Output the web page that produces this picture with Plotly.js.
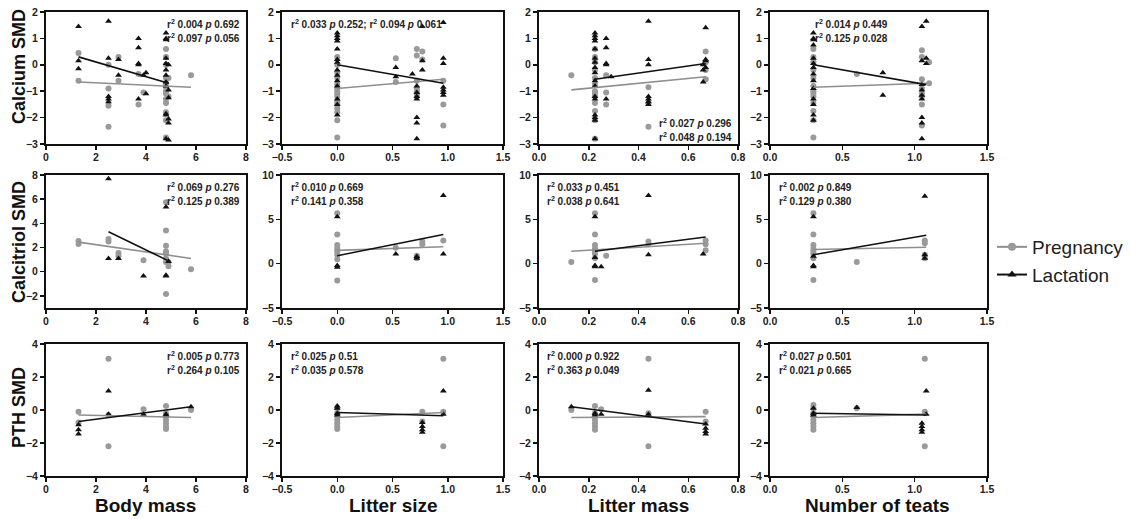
<!DOCTYPE html>
<html>
<head>
<meta charset="utf-8">
<script src="https://cdn.plot.ly/plotly-3.0.1.min.js"></script>
<style>html,body{margin:0;padding:0;background:#fff;}#chart{width:1131px;height:519px;}</style>
</head>
<body>
<div id="chart"></div>
<script>
// ---------- DATA (groups of [x, [y values]]) ----------
// Row 1: Calcium SMD
const calBodyPreg = [[1.3,[0.45,-0.6]],[2.5,[0.0,-0.9,-1.55,-2.35]],[2.9,[0.3,-0.6]],[3.7,[-0.35,-1.5]],[3.9,[-1.05]],[4.8,[0.6,0.3,0.0,-0.5,-0.7,-0.85,-1.0,-1.1,-1.3,-1.45,-1.8,-2.1,-2.75]],[4.9,[-0.5,-1.2]],[5.8,[-0.4]]];
const calBodyLact = [[1.3,[1.45,0.15,-0.15]],[2.5,[1.65,0.25,-1.2,-1.3,-1.4]],[2.9,[0.2,-0.4]],[3.7,[1.0,0.65,0.05,0.0,-1.3]],[3.9,[-0.4]],[4.0,[-0.3,-1.1]],[4.8,[1.2,1.0,0.95,0.25,0.05,-0.2,-0.4,-0.65,-0.8,-1.85,-1.9,-2.8]],[4.9,[0.0,-0.95,-1.25,-2.05,-2.2,-2.85]]];
const calBodyPregFit = [[1.3,-0.65],[5.8,-0.85]];
const calBodyLactFit = [[1.3,0.3],[4.9,-0.7]];

const calSizePreg = [[0,[0.3,0.0,-0.3,-0.5,-0.75,-0.9,-1.0,-1.1,-1.2,-1.4,-1.5,-1.65,-1.8,-2.1,-2.75]],[0.53,[0.25,-0.65]],[0.72,[0.6,0.35,-0.6,-0.9,-1.0,-1.1,-1.2]],[0.77,[0.5,0.2]],[0.96,[-0.6,-1.5,-2.3]]];
const calSizeLact = [[0,[1.2,1.1,1.0,0.9,0.6,0.2,0.1,-0.2,-0.4,-0.6,-0.8,-1.3,-1.5,-1.9]],[0.53,[-0.1,-0.45]],[0.68,[-0.35]],[0.72,[-0.8,-1.05,-1.2,-1.3,-2.0,-2.2,-2.8]],[0.77,[1.45,0.15,-0.2]],[0.96,[1.6,0.25,0.05,-0.85,-0.95,-1.05,-1.15]]];
const calSizePregFit = [[0,-0.9],[0.96,-0.55]];
const calSizeLactFit = [[0,0.0],[0.96,-0.7]];

const calMassPreg = [[0.13,[-0.4]],[0.225,[0.6,0.3,0.1,-0.2,-0.5,-0.75,-1.0,-1.1,-1.2,-1.45,-1.75,-2.1,-2.8]],[0.27,[-0.4,-1.05,-1.5]],[0.44,[-0.85,-1.45,-2.35]],[0.67,[0.5,0.1,-0.2,-0.55]]];
const calMassLact = [[0.225,[1.2,1.1,1.0,0.9,0.6,0.25,0.1,-0.1,-0.3,-0.6,-0.8,-1.2,-1.3,-1.9,-2.0,-2.1,-2.8]],[0.27,[1.0,0.65,0.05,0.0,-1.3]],[0.29,[-0.45]],[0.44,[1.65,0.2,0.0,-1.2,-1.3,-1.4,-1.5]],[0.66,[-0.65,0.0,-0.2]],[0.67,[1.4,0.15,-0.1,0.2]]];
const calMassPregFit = [[0.13,-0.95],[0.67,-0.45]];
const calMassLactFit = [[0.225,-0.55],[0.67,0.05]];

const calTeatPreg = [[0.3,[0.6,0.3,0.1,-0.2,-0.5,-0.8,-1.0,-1.1,-1.2,-1.45,-1.75,-2.1,-2.75]],[0.6,[-0.35]],[1.05,[0.55,0.3,-0.55,-0.9,-1.1,-1.2,-1.5,-2.3]],[1.1,[0.1,-0.7]]];
const calTeatLact = [[0.3,[1.2,1.0,0.95,0.75,0.25,0.05,-0.1,-0.35,-0.6,-0.9,-1.3,-1.5,-1.9,-2.1]],[0.78,[-0.3,-1.15]],[1.05,[1.45,0.15,-0.75,-0.95,-1.15,-1.3,-2.0,-2.2,-2.8]],[1.08,[1.65,0.25,0.05]]];
const calTeatPregFit = [[0.3,-0.85],[1.08,-0.7]];
const calTeatLactFit = [[0.3,0.0],[1.08,-0.75]];

// Row 2: Calcitriol SMD
const ctrBodyPreg = [[1.3,[2.55,2.3]],[2.5,[2.7,2.5]],[2.9,[1.55,1.3]],[3.9,[0.95]],[4.8,[5.75,3.4,2.15,1.7,1.5,1.1,0.8,-1.85]],[4.9,[0.8,0.45]],[5.8,[0.2]]];
const ctrBodyLact = [[2.5,[7.7,1.1]],[2.9,[1.1]],[3.9,[-0.35]],[4.8,[5.35,-0.3,-0.35]],[4.9,[0.85]]];
const ctrBodyPregFit = [[1.3,2.45],[5.8,1.1]];
const ctrBodyLactFit = [[2.5,3.3],[4.9,0.9]];

const ctrSizePreg = [[0,[5.7,3.3,2.1,1.7,1.4,1.0,0.5,-1.9]],[0.53,[1.8]],[0.72,[0.9,0.6]],[0.77,[2.5,2.2]],[0.96,[2.6]]];
const ctrSizeLact = [[0,[5.3,-0.2,-0.4]],[0.53,[1.1]],[0.72,[0.8,0.6]],[0.96,[7.7,1.1]]];
const ctrSizePregFit = [[0,1.5],[0.96,1.9]];
const ctrSizeLactFit = [[0,0.9],[0.96,3.3]];

const ctrMassPreg = [[0.13,[0.2]],[0.225,[5.7,3.3,2.1,1.7,1.4,1.1,0.6,-1.85]],[0.27,[0.9]],[0.44,[2.5,2.2]],[0.67,[2.6,2.2,1.5]]];
const ctrMassLact = [[0.225,[5.3,0.7,-0.2,-0.35]],[0.25,[-0.35]],[0.44,[7.7,1.0]],[0.66,[1.1]]];
const ctrMassPregFit = [[0.13,1.4],[0.67,2.3]];
const ctrMassLactFit = [[0.225,1.4],[0.67,3.0]];

const ctrTeatPreg = [[0.3,[5.7,3.3,2.1,1.7,1.4,1.1,0.6,-1.85]],[0.6,[0.2]],[1.07,[2.6,2.3,1.0,0.6]]];
const ctrTeatLact = [[0.3,[5.3,0.85,-0.2,-0.35]],[1.07,[7.6,1.0,0.6]]];
const ctrTeatPregFit = [[0.3,1.6],[1.08,1.85]];
const ctrTeatLactFit = [[0.3,1.0],[1.08,3.2]];

// Row 3: PTH SMD
const pthBodyPreg = [[1.3,[-0.1,-0.75]],[2.5,[3.1,-0.3,-2.2]],[3.9,[0.05]],[4.8,[0.25,-0.2,-0.4,-0.6,-0.8,-1.0,-1.15]],[5.8,[0.0]]];
const pthBodyLact = [[1.3,[-0.9,-1.2,-1.45]],[2.5,[1.15,-0.25]],[3.9,[-0.25]],[4.8,[-0.25,-0.35]],[5.8,[0.2]]];
const pthBodyPregFit = [[1.3,-0.3],[5.8,-0.45]];
const pthBodyLactFit = [[1.3,-0.7],[5.8,0.2]];

const pthSizePreg = [[0,[0.1,-0.2,-0.4,-0.6,-0.8,-1.0,-1.15]],[0.77,[-0.1,-0.7]],[0.96,[3.1,-0.1,-2.2]]];
const pthSizeLact = [[0,[0.25,0.1,-0.2,-0.3]],[0.77,[-0.75,-1.0,-1.2,-1.35]],[0.96,[1.15,-0.25]]];
const pthSizePregFit = [[0,-0.45],[0.96,-0.15]];
const pthSizeLactFit = [[0,-0.15],[0.96,-0.35]];

const pthMassPreg = [[0.13,[0.0]],[0.225,[0.25,-0.2,-0.4,-0.6,-0.8,-1.0,-1.2]],[0.25,[0.05]],[0.44,[3.1,-0.2,-2.2]],[0.67,[-0.1,-0.7]]];
const pthMassLact = [[0.13,[0.2]],[0.225,[-0.2,-0.3]],[0.25,[-0.25]],[0.44,[1.2,-0.25]],[0.67,[-0.85,-1.1,-1.3,-1.45]]];
const pthMassPregFit = [[0.13,-0.45],[0.67,-0.4]];
const pthMassLactFit = [[0.13,0.2],[0.67,-0.85]];

const pthTeatPreg = [[0.3,[0.3,0.1,-0.2,-0.4,-0.6,-0.8,-1.0,-1.2]],[0.6,[0.1]],[1.07,[3.1,-0.1,-2.2]]];
const pthTeatLact = [[0.3,[0.1,-0.2,-0.3]],[0.6,[0.15]],[1.05,[-0.8,-1.0,-1.2,-1.35]],[1.08,[1.15,-0.25]]];
const pthTeatPregFit = [[0.3,-0.45],[1.08,-0.25]];
const pthTeatLactFit = [[0.3,-0.2],[1.08,-0.3]];

// Statistics text
const statsText = [
  ["r<sup>2</sup> 0.004 <i>p</i> 0.692","r<sup>2</sup> 0.097 <i>p</i> 0.056"],
  ["r<sup>2</sup> 0.033 <i>p</i> 0.252; r<sup>2</sup> 0.094 <i>p</i> 0.061"],
  ["r<sup>2</sup> 0.027 <i>p</i> 0.296","r<sup>2</sup> 0.048 <i>p</i> 0.194"],
  ["r<sup>2</sup> 0.014 <i>p</i> 0.449","r<sup>2</sup> 0.125 <i>p</i> 0.028"],
  ["r<sup>2</sup> 0.069 <i>p</i> 0.276","r<sup>2</sup> 0.125 <i>p</i> 0.389"],
  ["r<sup>2</sup> 0.010 <i>p</i> 0.669","r<sup>2</sup> 0.141 <i>p</i> 0.358"],
  ["r<sup>2</sup> 0.033 <i>p</i> 0.451","r<sup>2</sup> 0.038 <i>p</i> 0.641"],
  ["r<sup>2</sup> 0.002 <i>p</i> 0.849","r<sup>2</sup> 0.129 <i>p</i> 0.380"],
  ["r<sup>2</sup> 0.005 <i>p</i> 0.773","r<sup>2</sup> 0.264 <i>p</i> 0.105"],
  ["r<sup>2</sup> 0.025 <i>p</i> 0.51","r<sup>2</sup> 0.035 <i>p</i> 0.578"],
  ["r<sup>2</sup> 0.000 <i>p</i> 0.922","r<sup>2</sup> 0.363 <i>p</i> 0.049"],
  ["r<sup>2</sup> 0.027 <i>p</i> 0.501","r<sup>2</sup> 0.021 <i>p</i> 0.665"]
];
const rowTitles = ["Calcium SMD","Calcitriol SMD","PTH SMD"];
const colTitles = ["Body mass","Litter size","Litter mass","Number of teats"];
const seriesNames = ["Pregnancy","Lactation"];

// ---------- LAYOUT ----------
const W = 1131, H = 519;
const colPx = [[46,246],[282,503],[539,738],[770,987]];
const rowPx = [[12,144],[175,308],[344,476]];
const xRanges = [[0,8],[-0.5,1.5],[0,0.8],[0,1.5]];
const xDticks = [2,0.5,0.2,0.5];
const xFormats = ["d",".1f",".1f",".1f"];
const yRanges = [[[-3,2],[-3,2],[-3,2],[-3,2]],[[-3,8],[-5,10],[-5,10],[-5,10]],[[-4,4],[-4,4],[-4,4],[-4,4]]];
const yDticks = [[1,1,1,1],[2,5,5,5],[2,2,2,2]];
// annotation placement: [x in domain, anchor, y top in domain]
const statPos = [
  [0.98,"right",0.97],[0.03,"left",0.97],[0.98,"right",0.22],[0.2,"left",0.97],
  [0.98,"right",0.97],[0.03,"left",0.97],[0.03,"left",0.97],[0.03,"left",0.97],
  [0.98,"right",0.97],[0.03,"left",0.97],[0.03,"left",0.97],[0.03,"left",0.97]
];

const panels = [
  [calBodyPreg,calBodyLact,calBodyPregFit,calBodyLactFit],
  [calSizePreg,calSizeLact,calSizePregFit,calSizeLactFit],
  [calMassPreg,calMassLact,calMassPregFit,calMassLactFit],
  [calTeatPreg,calTeatLact,calTeatPregFit,calTeatLactFit],
  [ctrBodyPreg,ctrBodyLact,ctrBodyPregFit,ctrBodyLactFit],
  [ctrSizePreg,ctrSizeLact,ctrSizePregFit,ctrSizeLactFit],
  [ctrMassPreg,ctrMassLact,ctrMassPregFit,ctrMassLactFit],
  [ctrTeatPreg,ctrTeatLact,ctrTeatPregFit,ctrTeatLactFit],
  [pthBodyPreg,pthBodyLact,pthBodyPregFit,pthBodyLactFit],
  [pthSizePreg,pthSizeLact,pthSizePregFit,pthSizeLactFit],
  [pthMassPreg,pthMassLact,pthMassPregFit,pthMassLactFit],
  [pthTeatPreg,pthTeatLact,pthTeatPregFit,pthTeatLactFit]
];

function expand(groups){
  const xs=[], ys=[];
  groups.forEach(g=>g[1].forEach(v=>{xs.push(g[0]); ys.push(v);}));
  return {x:xs,y:ys};
}

const GREY = "#9a9a9a", GREYLINE = "#8f8f8f", BLACK = "#111111";
const FONT = "Liberation Sans, Arial, sans-serif";
const traces = [];
const layout = {
  width:W, height:H, margin:{l:0,r:0,t:0,b:0},
  paper_bgcolor:"#fff", plot_bgcolor:"#fff",
  font:{family:FONT, color:"#111"},
  showlegend:true,
  legend:{x:992/W, y:1-228/H, xanchor:"left", yanchor:"top", font:{size:19, family:FONT, color:"#222"}, bgcolor:"rgba(0,0,0,0)", tracegroupgap:2, itemwidth:30},
  annotations:[]
};

panels.forEach((p,i)=>{
  const r = Math.floor(i/4), c = i%4;
  const n = i+1;
  const xa = n===1?"x":"x"+n, ya = n===1?"y":"y"+n;
  const xk = n===1?"xaxis":"xaxis"+n, yk = n===1?"yaxis":"yaxis"+n;
  const pr = expand(p[0]), la = expand(p[1]);
  traces.push({type:"scatter",mode:"markers",x:pr.x,y:pr.y,xaxis:xa,yaxis:ya,showlegend:false,
    marker:{symbol:"circle",size:6,color:GREY},cliponaxis:false,hoverinfo:"skip"});
  traces.push({type:"scatter",mode:"markers",x:la.x,y:la.y,xaxis:xa,yaxis:ya,showlegend:false,
    marker:{symbol:"triangle-up",size:6,color:BLACK},cliponaxis:false,hoverinfo:"skip"});
  traces.push({type:"scatter",mode:"lines",x:p[2].map(d=>d[0]),y:p[2].map(d=>d[1]),xaxis:xa,yaxis:ya,showlegend:false,
    line:{color:GREYLINE,width:1.6},hoverinfo:"skip"});
  traces.push({type:"scatter",mode:"lines",x:p[3].map(d=>d[0]),y:p[3].map(d=>d[1]),xaxis:xa,yaxis:ya,showlegend:false,
    line:{color:BLACK,width:1.6},hoverinfo:"skip"});

  const axCommon = {showgrid:false, zeroline:false, showline:true, linecolor:"#111", linewidth:2, mirror:true,
    ticks:"outside", ticklen:4, tickwidth:1.5, tickcolor:"#111", tickfont:{size:10.5, family:FONT, color:"#222", weight:"bold"}, fixedrange:true};
  layout[xk] = Object.assign({}, axCommon, {domain:[colPx[c][0]/W, colPx[c][1]/W], range:xRanges[c], dtick:xDticks[c], tick0:xRanges[c][0], tickformat:xFormats[c], anchor:ya, ticklabelstandoff:-2});
  layout[yk] = Object.assign({}, axCommon, {domain:[1-rowPx[r][1]/H, 1-rowPx[r][0]/H], range:yRanges[r][c], dtick:yDticks[r][c], tick0:0, anchor:xa});

  const sp = statPos[i];
  statsText[i].forEach((t,k)=>{
    const yTop = sp[2] - k*0.105;
    layout.annotations.push({xref:xa+" domain", yref:ya+" domain", x:sp[0], y:yTop, xanchor:sp[1], yanchor:"top",
      text:"<b>"+t+"</b>", showarrow:false, font:{size:10, family:FONT, color:"#222"}});
  });
});

// legend entries
traces.push({type:"scatter",mode:"lines+markers",x:[null],y:[null],name:seriesNames[0],
  marker:{symbol:"circle",size:8,color:GREY},line:{color:GREYLINE,width:2}});
traces.push({type:"scatter",mode:"lines+markers",x:[null],y:[null],name:seriesNames[1],
  marker:{symbol:"triangle-up",size:8,color:BLACK},line:{color:BLACK,width:2}});

// row and column titles
const rowCenters = [67,242,408];
rowTitles.forEach((t,r)=>{
  layout.annotations.push({xref:"paper",yref:"paper",x:19/W,y:1-rowCenters[r]/H,xanchor:"center",yanchor:"middle",
    text:"<b>"+t+"</b>",textangle:-90,showarrow:false,font:{size:18,family:FONT,color:"#111"}});
});
const colCenters = [145,393,638,878];
colTitles.forEach((t,c)=>{
  layout.annotations.push({xref:"paper",yref:"paper",x:colCenters[c]/W,y:1-505/H,xanchor:"center",yanchor:"middle",
    text:"<b>"+t+"</b>",showarrow:false,font:{size:19,family:FONT,color:"#111"}});
});

Plotly.newPlot("chart", traces, layout, {displayModeBar:false, staticPlot:true});
</script>
</body>
</html>
